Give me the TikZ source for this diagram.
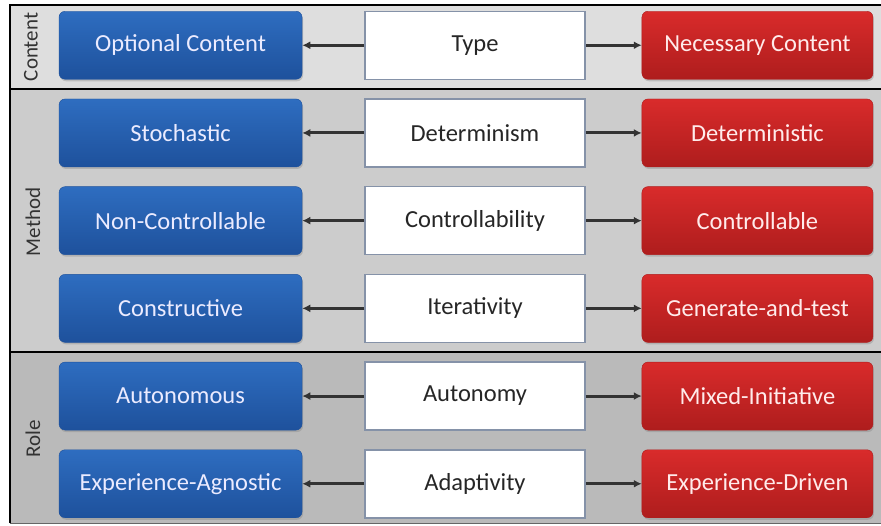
\documentclass[tikz,border=0pt]{standalone}
\usepackage{fontspec}
\setmainfont{Carlito}
\usetikzlibrary{matrix,shadows,arrows.meta}

\definecolor{negblue}{HTML}{2E6DC0}
\definecolor{negblued}{HTML}{1E519C}
\definecolor{posred}{HTML}{D92B2B}
\definecolor{posredd}{HTML}{AE1D1D}
\definecolor{dimedge}{HTML}{8592A8}

\begin{document}
\begin{tikzpicture}[x=1pt,y=-1pt,
  every node/.style={font=\fontsize{24.5}{28}\selectfont},
  box/.style={minimum height=68pt,rounded corners=6pt,
              drop shadow={opacity=.35,shadow xshift=1pt,shadow yshift=-2pt}},
  negbox/.style={box,minimum width=243pt,top color=negblue,bottom color=negblued,
              draw=negblued,text=blue!8!white},
  posbox/.style={box,minimum width=231pt,top color=posred,bottom color=posredd,
              draw=posredd,text=red!8!white},
  dimbox/.style={minimum height=68pt,minimum width=220pt,fill=white,
              draw=dimedge,line width=1.5pt,text=black!85},
  side/.style={rotate=90,font=\fontsize{21}{24}\selectfont,text=black!80},
  link/.style={->,line width=3pt,draw=black!80},
  >={Latex[length=8pt,width=8pt]}]
\useasboundingbox (0,0) rectangle (881,525);
% bands
\fill[black!13] (10,5) rectangle (881,89);
\fill[black!20] (10,89) rectangle (881,352);
\fill[black!27] (10,352) rectangle (881,523);
\draw[line width=1.2pt] (10,523) -- (10,5) -- (881,5);
\draw[line width=2pt] (10,89) -- (881,89);
\draw[line width=2pt] (10,352) -- (881,352);
\draw[line width=1pt,black!60] (10,523) -- (881,523);
\node[side](lcont) at (31,47)  {Content};
\node[side](lmeth) at (33,222) {Method};
\node[side](lrole) at (33,439) {Role};
\matrix[column sep=62pt,row sep=18.2pt,inner sep=0pt] at (466,264.5)
{ \node[negbox](opt) {Optional Content};      & \node[dimbox](type) {Type};            &[-6pt] \node[posbox](nec) {Necessary Content}; \\
  \node[negbox](sto) {Stochastic};            & \node[dimbox](det)  {Determinism};     & \node[posbox](dtr) {Deterministic}; \\
  \node[negbox](nct) {Non-Controllable};      & \node[dimbox](ctl)  {Controllability}; & \node[posbox](con) {Controllable}; \\
  \node[negbox](cst) {Constructive};          & \node[dimbox](itr)  {Iterativity};     & \node[posbox](gat) {Generate-and-test}; \\
  \node[negbox](aut) {Autonomous};            & \node[dimbox](aty)  {Autonomy};        & \node[posbox](mix) {Mixed-Initiative}; \\
  \node[negbox](agn) {Experience-Agnostic};   & \node[dimbox](ada)  {Adaptivity};      & \node[posbox](exd) {Experience-Driven}; \\};
\draw[link] (type) -- (opt);
\draw[link] (type) -- (nec);
\draw[link] (det) -- (sto);
\draw[link] (det) -- (dtr);
\draw[link] (ctl) -- (nct);
\draw[link] (ctl) -- (con);
\draw[link] (itr) -- (cst);
\draw[link] (itr) -- (gat);
\draw[link] (aty) -- (aut);
\draw[link] (aty) -- (mix);
\draw[link] (ada) -- (agn);
\draw[link] (ada) -- (exd);
\end{tikzpicture}
\end{document}
